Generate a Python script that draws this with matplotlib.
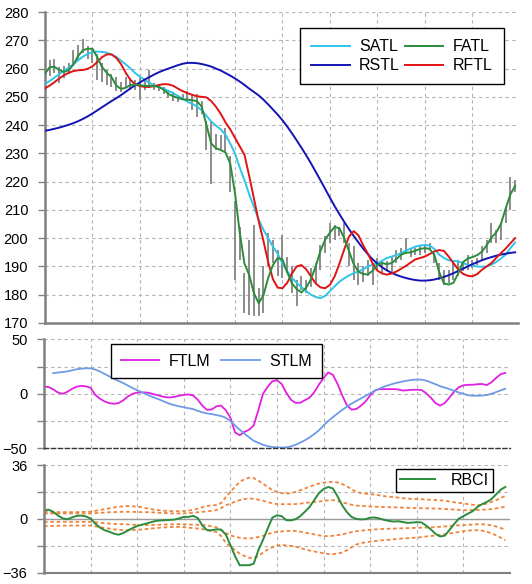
import numpy as np
import matplotlib
matplotlib.use("Agg")
import matplotlib.pyplot as plt
from matplotlib.ticker import MultipleLocator

plt.rcParams['font.family'] = ['Liberation Sans', 'DejaVu Sans']

# ===== DATA (one value per bar) =====
high = [261, 263, 263.2, 260.5, 261, 262, 266.5, 268.5, 270.6, 268,
        266.8, 265, 261.8, 259.4, 258.2, 257, 255.3, 257, 256.5, 256,
        256.5, 255.5, 259.5, 255, 254.5, 253.5, 252.5, 251.8, 250.5, 251,
        252, 250.6, 251, 248.5, 241.5, 241, 237, 236.5, 238.8, 229,
        213, 204, 187.7, 199.4, 204.7, 182.4, 190, 201.8, 199.4, 195.9,
        201.2, 193.5, 190, 185.3, 186.5, 185.3, 189.4, 191.2, 197.6, 200.6,
        205.3, 204.7, 204.1, 205.3, 198.2, 197.1, 191.2, 190, 192.4, 191.2,
        193, 191.8, 192, 193.5, 195.9, 196.5, 200, 196.5, 196.5, 197.6,
        197.6, 198.2, 194.7, 191.2, 188.8, 188.8, 191.2, 192.4, 192, 194.1,
        192.4, 193, 197.1, 199.4, 205.3, 202.9, 205.3, 211.2, 221.8, 220.6]
low = [257, 257.5, 258.5, 255, 256.5, 258, 261, 263, 265.5, 263.5,
       262, 256, 255.3, 254.1, 253.5, 252, 251.8, 253, 252.4, 252.4,
       248.8, 252.5, 253, 252.5, 252, 251, 249.5, 248.5, 248.3, 249,
       248.5, 245.5, 243, 244, 231.2, 219, 231.2, 231.5, 230.6, 216.5,
       185.3, 192.4, 173.5, 172.9, 172.3, 172.3, 173.5, 190, 191.2, 186.5,
       185.9, 187.6, 180.6, 175.9, 181.8, 180.6, 182.9, 184.1, 188.8, 194.7,
       198.2, 199.4, 200.6, 198.2, 190, 185.3, 183.5, 184.5, 186.5, 183.5,
       188.8, 187.6, 188.5, 187.6, 191.2, 192.4, 194.7, 193.5, 194, 194.1,
       194.7, 195.9, 191.2, 185.3, 183.5, 184.1, 185.3, 186.5, 188.5, 188.8,
       189.4, 190.5, 192.4, 194.7, 198.2, 198.2, 199.4, 205.3, 210, 216.5]

satl = [254.5, 255.6, 256.8, 258, 259.3, 260.3, 261.5, 263, 264.2, 265.2,
        265.8, 266, 265.9, 265.6, 265, 264.1, 262.8, 261.5, 260, 258.4,
        257.1, 256, 254.9, 254, 253.4, 252.9, 252.1, 251.3, 250.3, 249.3,
        248.3, 247.5, 246.6, 245.2, 243.3, 241.3, 239.8, 238.5, 236.6, 233.5,
        230, 225, 220.5, 215.5, 211, 206.5, 203, 200, 197, 194.5,
        191, 188.3, 186, 184.2, 182.7, 181.3, 180, 179.2, 178.8, 179.6,
        181.3, 183, 184.6, 185.8, 186.8, 187.6, 188.2, 189, 190, 190.6,
        191.2, 192, 193, 193.5, 194, 194.8, 195.6, 196.3, 197, 197.4,
        197.6, 197.4, 196.2, 194.2, 193, 192.2, 191.9, 191.8, 191.2, 190.6,
        190.3, 190, 189.9, 190, 190.6, 191.6, 192.8, 194.2, 196.5, 198.5]
fatl = [258.2, 260.5, 260.6, 259.5, 258.8, 259.4, 261.5, 264.5, 266.5, 267,
        267, 264, 260.6, 258.5, 257, 254, 252.8, 253.2, 254.2, 254.3,
        254.1, 253.9, 253.8, 253.8, 253.5, 252.5, 251, 250.2, 249.6, 249.1,
        249, 248.8, 248.5, 246.5, 240, 233.5, 231.8, 231.2, 230.3, 226.5,
        216, 202, 191, 187, 180.5, 177, 179.8, 186, 190.5, 193,
        192.5, 188, 184, 182, 180.8, 182.5, 185.5, 190, 195.5, 199.5,
        202, 204, 203.5, 200, 195.5, 190.8, 188.2, 187.3, 187.2, 188.5,
        190.6, 191.2, 190.8, 191.2, 192.6, 194.2, 194.8, 195, 195.6, 196.2,
        196.5, 196.2, 194, 188, 184, 183.6, 184.2, 187.5, 191.5, 192.8,
        193.3, 194, 195.2, 197.5, 200.2, 202, 205, 210.5, 215.5, 218.5]
rstl = [238, 238.3, 238.7, 239.1, 239.6, 240.1, 240.7, 241.4, 242.2, 243.1,
        244.1, 245.2, 246.3, 247.4, 248.5, 249.5, 250.6, 251.8, 253, 254.1,
        255.1, 256.1, 257, 257.9, 258.7, 259.4, 260, 260.6, 261.2, 261.7,
        262, 262, 261.9, 261.6, 261.2, 260.7, 260, 259.3, 258.4, 257.5,
        256.5, 255.4, 254.2, 252.9, 251.7, 250.5, 249, 247.3, 245.5, 243.7,
        241.7, 239.5, 237.1, 234.6, 232, 229.3, 226.5, 223.5, 220.5, 217.4,
        214.3, 211.3, 208.5, 205.8, 203.2, 200.8, 198.5, 196.3, 194.3, 192.5,
        191, 189.7, 188.6, 187.7, 187, 186.4, 185.9, 185.5, 185.2, 185,
        185, 185.1, 185.4, 185.8, 186.3, 186.9, 187.6, 188.4, 189.2, 190,
        190.8, 191.5, 192.2, 192.8, 193.3, 193.8, 194.2, 194.5, 194.8, 195]
rftl = [253, 254, 255.2, 256.5, 257.6, 258.5, 259.1, 259.4, 259.5, 259.9,
        260.8, 262.3, 264, 265, 265, 263.8, 261.6, 258.5, 256, 254.4,
        253.8, 253.5, 253.5, 253.8, 254.2, 254.5, 254.4, 253.9, 252.9, 252,
        251.3, 250.7, 250.2, 250, 249.8, 248.5, 246.5, 244, 241, 238.5,
        235.5, 232.5, 229.5, 222, 214, 206, 199, 191.5, 185.5, 182.5,
        182.3, 184.2, 187.5, 190, 190.5, 189, 186.5, 184, 182.6, 182.3,
        183.5, 186.5, 191, 196, 200.5, 202.5, 201, 197.5, 194.5, 191,
        188.5, 187.5, 187.1, 187.5, 188.2, 189.2, 190.2, 191.4, 192.5, 193,
        193.5, 194.4, 195.3, 195.8, 195.5, 193.5, 191.2, 189, 187.4, 186.7,
        186.5, 187.3, 188.8, 190, 191.2, 193, 194.7, 196.3, 198.2, 200]

ftlm = [6.7, 6.2, 4, 1.2, 0, 1.8, 4.5, 6.5, 7.3, 6.8,
        5.5, -1, -4.5, -7, -8.5, -9.2, -8.5, -6, -2.5, 0,
        1.2, 1.3, 1.2, 0.3, -0.9, -2, -3, -3.4, -2.8, -1.8,
        -1, -0.6, -1.5, -5.5, -11, -14.8, -14.3, -11.5, -10.8, -15,
        -22, -35.5, -38, -35, -33, -29, -15, 0, 6.5, 11.5,
        12.5, 9, 1, -5.5, -8.3, -8.2, -5.8, -3.5, 1.5, 8.5,
        14.5, 19.6, 17.4, 9, -1.5, -10.5, -14.5, -14, -11, -7,
        -1.5, 3, 4.3, 4.3, 4.3, 4.3, 4, 3, 3.3, 3.7,
        3.7, 3.5, 0.6, -3.5, -8.5, -10.8, -8.5, -3.5, 2, 6,
        7.8, 8.3, 8.3, 8.8, 9, 8, 10.5, 14.5, 18, 19.2]
stlm = [np.nan, np.nan, 19, 19.5, 20, 20.6, 21.5, 22.5, 23.1, 23.4,
        23.4, 22.2, 20.5, 18.3, 16, 13.8, 11.8, 9.8, 7.6, 5.3,
        3.3, 1.4, -0.5, -2.4, -4, -5.7, -7.5, -9.2, -10.5, -11.5,
        -12.4, -13.2, -14, -15.7, -17, -18, -18.6, -19.5, -20.4, -22,
        -25, -29, -33, -36.5, -40, -43, -45, -46.8, -48, -48.8,
        -49.2, -49.3, -49.2, -48.2, -46.8, -44.8, -42.6, -40, -37, -33.5,
        -29, -25, -21.4, -18, -14.8, -11.8, -9, -6.6, -4.3, -2,
        0.5, 2.8, 4.8, 6.6, 8, 9.3, 10.4, 11.3, 12.1, 12.8,
        13.1, 13, 12.1, 10.5, 8.8, 7, 5.7, 4.3, 2.8, 1.2,
        0, -1.3, -1.8, -1.8, -1.6, -1.2, 0, 1.5, 3.2, 4.6]

rbci = [5.8, 6.1, 4.7, 2.2, 0.4, -0.3, 0.9, 2, 2.2, 1.6,
        0.2, -3.2, -5.8, -7.6, -8.6, -9.9, -10.6, -9.5, -7.8, -6.2,
        -4.8, -3.9, -3.1, -2.2, -1.4, -1.1, -0.9, -0.7, -0.5, 0.3,
        1.3, 1.3, 2, 0.5, -4.5, -7.6, -7.6, -7, -7.2, -10.5,
        -17.5, -25, -31, -31, -31, -30, -21, -14, -6.5, 0.8,
        2.4, 1.8, -0.9, -1, -0.2, 1.8, 4.8, 8, 12.6, 17.2,
        20, 21.3, 20.3, 15, 9, 4.5, 1.3, 0, -0.4, -0.2,
        0.8, 0.9, 0.2, -0.7, -1.4, -1.8, -1.6, -2.1, -2.7, -2.5,
        -2.2, -2.4, -4.5, -7, -10, -11.8, -11.2, -7.5, -3.5, 0.1,
        1.8, 3.5, 5.1, 8, 9.8, 11.2, 13.2, 16.3, 19.5, 21.3]
band_up2 = [4.7, 4.6, 4.5, 4.5, 4.5, 4.5, 4.5, 4.5, 4.6, 4.7,
            4.8, 5.3, 5.9, 6.5, 7, 7.6, 8.1, 8.4, 8.5, 8.4,
            8.1, 7.7, 7.1, 6.5, 6, 5.7, 5.4, 5.2, 5.1, 5.1,
            5.2, 5.5, 6, 6.8, 7.8, 8.6, 9, 9.2, 10.5, 14.5,
            18, 21.5, 24.7, 26.5, 27.5, 27.3, 25.5, 23.5, 21.3, 19.2,
            18, 17.2, 16.9, 17.1, 18, 19.2, 20.3, 21.5, 22.6, 23.6,
            24.2, 24.6, 24.7, 24.3, 23.2, 21.8, 19.8, 18, 17.2, 16.8,
            16.5, 16.2, 15.7, 15.2, 14.8, 14.6, 14.2, 13.8, 13.5, 13.3,
            13.2, 13.1, 12.9, 12.7, 12.6, 12.4, 12.1, 11.6, 11.1, 10.7,
            10.3, 9.8, 9.4, 9.1, 9.3, 10.2, 11.3, 12.5, 13.9, 15.4]
band_up1 = [3.6, 3.6, 3.6, 3.6, 3.6, 3.6, 3.6, 3.6, 3.6, 3.6,
            3.6, 3.8, 4, 4.2, 4.4, 4.5, 4.6, 4.7, 4.7, 4.7,
            4.6, 4.5, 4.5, 4.4, 4.2, 4, 3.9, 3.7, 3.6, 3.6,
            3.6, 3.8, 4.1, 4.4, 4.7, 5, 5.4, 5.8, 7.2, 9,
            10.3, 11.5, 12.5, 13.2, 13.6, 13.4, 12.8, 12.1, 11.2, 10.4,
            9.9, 9.8, 9.8, 9.8, 9.9, 10.2, 10.6, 11, 11.3, 11.6,
            12, 12.4, 12.5, 12, 11, 10.2, 9.4, 8.9, 8.6, 8.5,
            8.3, 8.1, 8, 7.9, 7.8, 7.7, 7.6, 7.5, 7.4, 7.3,
            7.2, 7.1, 7, 7, 6.9, 6.8, 6.6, 6.4, 6.2, 6,
            5.8, 5.8, 5.9, 6, 6.1, 6.2, 6.5, 7, 7.5, 8.1]
band_dn1 = [-2, -2, -2, -2, -2, -2, -2, -2, -2, -2,
            -2, -2.3, -2.6, -2.9, -3.2, -3.4, -3.5, -3.6, -3.7, -3.9,
            -4.1, -4.2, -4.2, -4.1, -4, -3.9, -3.8, -3.7, -3.6, -3.6,
            -3.7, -3.8, -3.9, -4, -4.1, -4.4, -5, -5.6, -7.5, -9.5,
            -11, -12, -12.6, -13, -13.2, -12.8, -12.1, -11.3, -10.2, -9.3,
            -8.7, -8.4, -8.2, -8, -8.1, -8.6, -9.2, -9.8, -10.4, -11,
            -11.5, -11.6, -11.3, -10.9, -10.4, -9.7, -8.9, -8.3, -7.9, -7.6,
            -7.3, -7.1, -6.9, -6.8, -6.6, -6.5, -6.4, -6.3, -6.2, -6.1,
            -6, -5.9, -5.8, -5.7, -5.5, -5.3, -5.1, -4.8, -4.5, -4.3,
            -4.2, -4, -3.8, -3.6, -3.6, -3.8, -4.3, -5.1, -6.1, -7.2]
band_dn2 = [-4.9, -4.8, -4.7, -4.6, -4.6, -4.5, -4.5, -4.5, -4.5, -4.5,
            -4.5, -5, -5.6, -6.1, -6.5, -7, -7.3, -7.5, -7.6, -7.5,
            -7.3, -7.1, -6.8, -6.5, -6.2, -5.9, -5.7, -5.5, -5.4, -5.4,
            -5.6, -5.9, -6.2, -6.5, -6.8, -7.5, -8.3, -8.7, -11.5, -16,
            -18.5, -21, -23.2, -24.8, -26, -26.2, -24.8, -22.5, -20.5, -19,
            -17.8, -17.5, -17.7, -18.1, -18.6, -19.5, -20.4, -21.2, -21.8, -22.4,
            -23, -23.5, -23.6, -23.2, -22.5, -21, -19, -17.2, -16.3, -15.7,
            -15.2, -14.8, -14.5, -14.2, -14, -13.7, -13.4, -13.1, -12.9, -12.7,
            -12.5, -12.2, -11.8, -11.5, -11.1, -10.7, -10.3, -9.8, -9.3, -8.8,
            -8.3, -7.9, -7.6, -7.6, -7.9, -8.6, -9.6, -11, -12.6, -14.3]

bars = np.arange(len(high))

GRID = dict(color="#b4b4b4", lw=0.8, ls=(0, (3, 3)))


def style_axis(ax, xmax, ymin, ymax, major, minor=None):
    ax.set_xlim(0, xmax)
    ax.set_ylim(ymin, ymax)
    ax.set_xticks(np.arange(0, 100, 10))
    ax.tick_params(axis="x", length=0, labelbottom=False)
    ax.yaxis.set_major_locator(MultipleLocator(major))
    if minor:
        ax.yaxis.set_minor_locator(MultipleLocator(minor))
        ax.grid(True, which="minor", axis="y", **GRID)
    ax.grid(True, which="major", **GRID)
    ax.set_axisbelow(True)
    ax.tick_params(axis="y", which="both", length=5, width=1,
                   color="#808080", labelsize=10.5, pad=7)
    ax.spines["top"].set_visible(False)
    ax.spines["right"].set_visible(False)
    ax.spines["left"].set_color("#808080")
    ax.spines["left"].set_linewidth(1.8)


def legend(ax, handles, x, y, **kw):
    leg = ax.legend(handles=handles, loc="upper left", bbox_to_anchor=(x, y),
                    bbox_transform=fig.transFigure, borderaxespad=0,
                    fancybox=False, framealpha=1, edgecolor="black",
                    fontsize=11.5, **kw)
    leg.get_frame().set_linewidth(1.0)
    return leg


# ===== FIGURE =====
fig = plt.figure(figsize=(5.32, 5.84), dpi=100)
ax1 = fig.add_axes([45 / 532, 1 - 323 / 584, 473 / 532, 311 / 584])
ax2 = fig.add_axes([44 / 532, 1 - 448.3 / 584, 466 / 532, 109 / 584])
ax3 = fig.add_axes([44 / 532, 1 - 572.7 / 584, 466 / 532, 107.7 / 584])

# ===== PRICE + FILTERS =====
style_axis(ax1, 99.6, 170, 280, 10)
ax1.spines["bottom"].set_color("#808080")
ax1.spines["bottom"].set_linewidth(1.8)
ax1.vlines(bars, low, high, color="#8c8c8c", lw=1.4, zorder=2)
l_satl, = ax1.plot(bars, satl, color="#2ec4ea", lw=1.4, label="SATL", zorder=3)
l_rstl, = ax1.plot(bars, rstl, color="#1414b4", lw=1.4, label="RSTL", zorder=3)
l_fatl, = ax1.plot(bars, fatl, color="#2a8c3c", lw=1.4, label="FATL", zorder=4)
l_rftl, = ax1.plot(bars, rftl, color="#e01414", lw=1.4, label="RFTL", zorder=3)
legend(ax1, [l_satl, l_rstl, l_fatl, l_rftl], 300 / 532, 1 - 28 / 584,
       ncol=2, handlelength=2.4, handletextpad=0.6, columnspacing=0.3,
       labelspacing=0.25, borderpad=0.7)

# ===== FTLM / STLM =====
style_axis(ax2, 100, -50, 50, 50, 25)
ax2.spines["bottom"].set_color("#333333")
ax2.spines["bottom"].set_linestyle((0, (3, 2)))
ax2.spines["bottom"].set_linewidth(1.0)
l_ftlm, = ax2.plot(bars, ftlm, color="#e020e0", lw=1.3, label="FTLM")
l_stlm, = ax2.plot(bars, stlm, color="#6f9be6", lw=1.3, label="STLM")
legend(ax2, [l_ftlm, l_stlm], 111 / 532, 1 - 344 / 584,
       ncol=2, handlelength=2.4, handletextpad=0.6, columnspacing=0.7,
       borderpad=0.6)

# ===== RBCI =====
style_axis(ax3, 100, -36, 36, 36, 18)
ax3.spines["bottom"].set_color("#808080")
ax3.spines["bottom"].set_linewidth(1.5)
ax3.axhline(0, color="#9a9a9a", lw=1.0, zorder=1)
for band in (band_up2, band_up1, band_dn1, band_dn2):
    ax3.plot(bars, band, color="#f0843a", lw=1.3, ls=(0, (2, 1.5)))
l_rbci, = ax3.plot(bars, rbci, color="#2a8c3c", lw=1.4, label="RBCI")
legend(ax3, [l_rbci], 396 / 532, 1 - 469 / 584,
       handlelength=2.2, handletextpad=1.0, borderpad=0.25)

fig.savefig("out.png", dpi=100)
